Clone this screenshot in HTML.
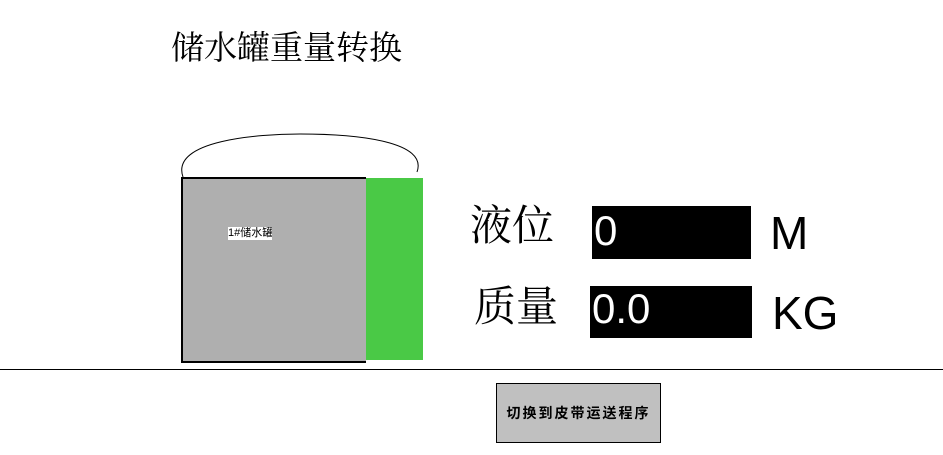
<!DOCTYPE html>
<html><head><meta charset="utf-8"><style>
body{margin:0;width:943px;height:455px;background:#fff;position:relative;overflow:hidden;font-family:"Liberation Sans","Noto Sans CJK SC",sans-serif}
div{position:absolute;box-sizing:border-box}
.serif{font-family:"Liberation Serif","Noto Serif CJK SC",serif}
.box{background:#000;color:#fff;font-size:42px;line-height:50px;padding-left:2px}
</style></head><body>
<div class="serif" style="left:171px;top:29px;font-size:33px;line-height:40px;white-space:nowrap">储水罐重量转换</div>
<svg style="position:absolute;left:0;top:0" width="943" height="455"><path d="M183,177 C170,140 260,134 300,134 C360,134 428,142 417,172" fill="none" stroke="#000" stroke-width="1"/></svg>
<div style="left:181px;top:177px;width:185px;height:186px;background:#afafaf;border:2px solid #000;border-right:none"></div>
<div style="left:366px;top:178px;width:57px;height:182px;background:#4ac946"></div>
<div style="left:228px;top:227px;width:44px;height:13px;background:#fff;font-size:11px;line-height:13px;white-space:nowrap;overflow:hidden">1#储水罐</div>
<div class="serif" style="left:470px;top:202px;font-size:42px;line-height:50px;white-space:nowrap">液位</div>
<div class="box" style="left:592px;top:206px;width:159px;height:53px">0</div>
<div style="left:770px;top:207px;font-size:46px;line-height:52px">M</div>
<div class="serif" style="left:474px;top:283px;font-size:42px;line-height:50px;white-space:nowrap">质量</div>
<div class="box" style="left:590px;top:286px;width:162px;height:52px;line-height:46px">0.0</div>
<div style="left:772px;top:287px;font-size:46px;line-height:52px">KG</div>
<div style="left:0;top:369px;width:943px;height:1px;background:#000"></div>
<div style="left:496px;top:383px;width:165px;height:60px;background:#c0c0c0;border:1px solid #000;font-weight:bold;font-size:14px;letter-spacing:2px;text-align:center;line-height:58px;white-space:nowrap">切换到皮带运送程序</div>
</body></html>
